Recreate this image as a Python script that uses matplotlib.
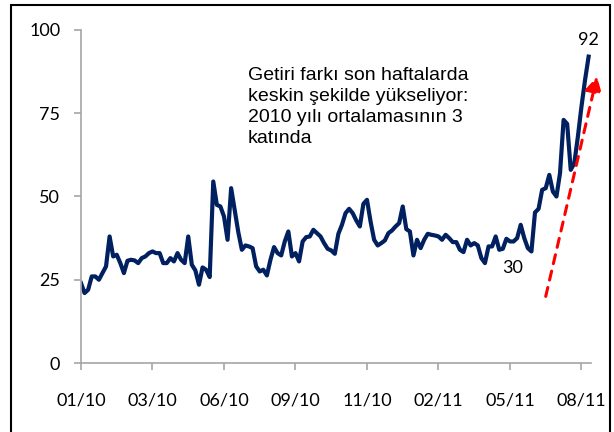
import numpy as np
import matplotlib
matplotlib.use("Agg")
from matplotlib import pyplot as plt
from matplotlib.patches import Rectangle

# spread series, one value every 3 trading days
spread = [
    24, 21, 22, 26, 26, 25, 27, 29, 38, 32,
    32.5, 30, 27, 30.7, 31, 30.8, 30, 31.5, 32, 33,
    33.5, 33, 33, 30, 30, 31.5, 30.5, 33, 31, 30,
    38, 29.5, 27.8, 23.5, 28.7, 28, 25.8, 54.5, 47.5, 47,
    44, 37, 52.5, 46, 39.3, 34, 35.3, 35, 34.5, 29,
    27.5, 28, 26.3, 31, 34.8, 33, 32.3, 36.5, 39.5, 32,
    33, 30.5, 36.5, 37.8, 38, 40, 39, 38, 36, 34.3,
    33.8, 32.8, 38.8, 41.5, 45, 46.3, 45, 42.8, 41, 47.8,
    49, 42.5, 37, 35.3, 36, 36.8, 39, 39.8, 41, 42,
    47, 40.2, 39.5, 32.3, 37, 34.5, 37, 38.8, 38.5, 38.3,
    38, 37, 38.5, 37.5, 36.3, 36.3, 34, 33.3, 37, 35.3,
    36, 35.3, 31.5, 30, 35, 35, 38, 34, 34.3, 37.3,
    36.5, 36.5, 37.5, 41.5, 37.5, 34.5, 33.5, 45.2, 46.3, 52,
    52.5, 56.5, 51.5, 50, 57, 73, 71.8, 58, 60, 68,
    77, 85, 92,
]
step = 3
tick_every = 60
tick_labels = ["01/10", "03/10", "06/10", "09/10", "11/10", "02/11", "05/11", "08/11"]
note = "Getiri farkı son haftalarda\nkeskin şekilde yükseliyor:\n2010 yılı ortalamasının 3\nkatında"

x = np.arange(len(spread)) * step

fig = plt.figure(figsize=(6.14, 4.32), dpi=100)
ax = fig.add_axes([81 / 614, 0.1597, 510 / 614, 0.7709])

ax.plot(x, spread, color="#002060", lw=3.0, solid_joinstyle="round")

ax.set_xlim(0, 428)
ax.set_ylim(0, 100)
ax.set_yticks([0, 25, 50, 75, 100])
ax.set_xticks(np.arange(len(tick_labels)) * tick_every)
ax.set_xticklabels(tick_labels)

for s in ("top", "right"):
    ax.spines[s].set_visible(False)
for s in ("left", "bottom"):
    ax.spines[s].set_color("#a6a6a6")
    ax.spines[s].set_linewidth(1.2)
ax.tick_params(axis="both", colors="#a6a6a6", length=5, width=1.2, labelcolor="black",
               labelsize=13)
ax.tick_params(axis="x", pad=16)
ax.tick_params(axis="y", pad=10)
for lab in ax.get_xticklabels() + ax.get_yticklabels():
    lab.set_family("Lato")

ax.text(140, 89, note, family="Liberation Sans", fontsize=14, linespacing=1.32,
        va="top", ha="left")
ax.text(x[-1], spread[-1] + 2.5, "92", family="Lato", fontsize=13, ha="center", va="bottom")
ax.text(362, 31, "30", family="Lato", fontsize=13, ha="center", va="top")

ax.annotate("", xy=(433, 86), xytext=(390, 20), annotation_clip=False,
            arrowprops=dict(arrowstyle="-|>,head_length=0.9,head_width=0.5", color="#ff0000",
                            lw=2.2, linestyle=(0, (3, 2.5)), shrinkA=0, shrinkB=0))

fig.patches.append(Rectangle((11 / 614, -0.01), 599 / 614, 1 - 5 / 432 + 0.01,
                             transform=fig.transFigure, fill=False, edgecolor="black",
                             lw=1.5))

fig.savefig("out.png", dpi=100)
